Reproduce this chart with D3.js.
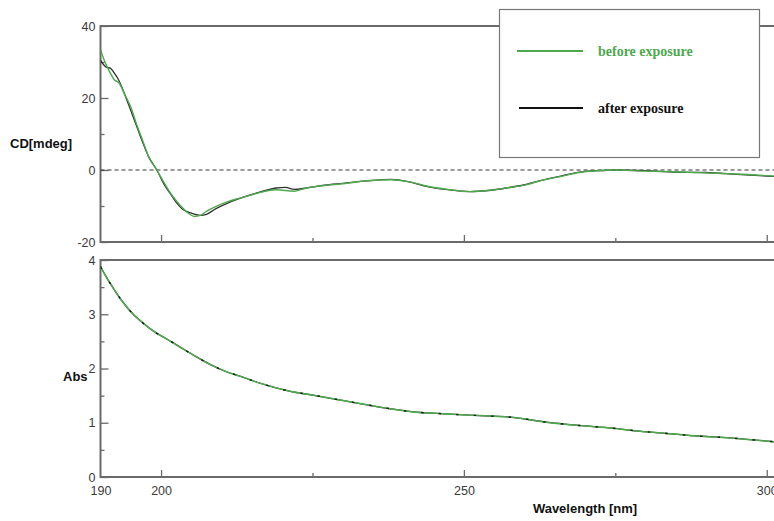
<!DOCTYPE html>
<html>
<head>
<meta charset="utf-8">
<script src="https://cdn.jsdelivr.net/npm/d3@7"></script>
<style>
  html,body{margin:0;padding:0;background:#fff;}
  svg{display:block;}
</style>
</head>
<body>
<div id="chart"></div>
<script>
// CD spectra before / after exposure + absorbance
const cdWlBefore=[190,190.5,191,191.6,192.3,193,194,195,196,197,198,199.3,200.5,201.5,202.5,203.5,204.5,205.5,206.5,207.5,209,211,213,216,219,222,224,227,230,234,238,241,244,247,251,254,257,260,263,266,269,272,275,280,285,290,295,301.2];
const cdBefore=[33.5,31,29,27,25,24.3,21,17.5,12.5,8,3.5,0,-3.5,-6.3,-8.5,-10.4,-12,-12.9,-12.6,-11.5,-10.2,-8.8,-7.8,-6.4,-5.5,-5.9,-5.0,-4.3,-3.8,-3.0,-2.7,-3.3,-4.5,-5.3,-6.0,-5.7,-5.0,-4.2,-2.8,-1.8,-0.7,-0.2,0,-0.3,-0.5,-0.8,-1.1,-1.7];

const cdWlAfter=[190,191,191.6,192.4,193,194,195,196,197,198,199.3,200.5,201.5,202.5,203.5,205,206.5,207.5,209,211,213,216,219,220.5,222,224,227,230,234,238,241,244,247,251,254,257,260,263,266,269,272,275,280,285,290,295,301.2];
const cdAfter=[30.5,28.5,28.3,26.6,25,21,16.5,12,7.5,3.5,0,-4,-6.5,-9,-10.8,-12,-12.6,-12.3,-10.8,-9.2,-7.9,-6.3,-5.0,-4.8,-5.4,-5.0,-4.2,-3.7,-3.0,-2.6,-3.3,-4.6,-5.4,-6.0,-5.7,-5.0,-4.1,-2.8,-1.7,-0.6,-0.2,0,-0.2,-0.6,-0.7,-1.2,-1.8];

const absWl=[190,191,192,193,194,195.4,197,199,201,203.5,205.3,208,210.8,213,216.3,221.3,225,229.5,234,238.3,241.6,246,251,255,258,263.6,269,274.6,278.5,282.8,288,293.9,301.2];
const absBefore=[3.88,3.68,3.50,3.33,3.18,3.0,2.84,2.67,2.54,2.37,2.25,2.08,1.94,1.86,1.73,1.58,1.51,1.42,1.33,1.25,1.20,1.17,1.14,1.12,1.10,1.01,0.95,0.90,0.85,0.81,0.76,0.72,0.65];
const absAfter=[3.88,3.68,3.50,3.33,3.18,3.0,2.84,2.67,2.54,2.37,2.25,2.08,1.94,1.86,1.73,1.58,1.51,1.42,1.33,1.25,1.20,1.17,1.14,1.12,1.10,1.01,0.95,0.90,0.85,0.81,0.76,0.72,0.65];

const xTickLabels=[190,200,250,300];
const xMajor=[200,250,300];
const xMinor=[225,275];
const cdTicks=[40,20,0,-20];
const cdMinor=[30,10,-10];
const absTicks=[4,3,2,1,0];
const absMinor=[3.5,2.5,1.5,0.5];

const legendItems=[{name:"before exposure",color:"#4ea84e"},{name:"after exposure",color:"#111"}];

const W=774,H=521;
const GREEN="#4ea84e",BLACK="#1a1a1a",FRAME="#6a6a6a",TXT="#3a3a3a";
const FONT="'Liberation Sans',Arial,sans-serif";
const fmt=d=>String(d);

const svg=d3.select("#chart").append("svg").attr("width",W).attr("height",H);

const x=d3.scaleLinear().domain([190,301.2]).range([100.5,774]);
const yCd=d3.scaleLinear().domain([-20,40]).range([242,26]);
const yAbs=d3.scaleLinear().domain([0,4]).range([477,260]);

svg.append("defs").append("clipPath").attr("id","clipAll")
  .append("rect").attr("x",100.5).attr("y",0).attr("width",W).attr("height",H);

// ── AXES ──────────────────────────────────────────────
function yAxis(scale,major,minor){
  svg.append("g").attr("transform","translate(100.5,0)")
    .call(d3.axisLeft(scale).tickValues(minor).tickSize(-4).tickFormat(""))
    .call(g=>g.select(".domain").remove())
    .call(g=>g.selectAll("line").attr("stroke",FRAME).attr("stroke-width",1.3));
  svg.append("g").attr("transform","translate(100.5,0)")
    .call(d3.axisLeft(scale).tickValues(major).tickSize(-8).tickPadding(5).tickFormat(fmt))
    .call(g=>g.select(".domain").remove())
    .call(g=>g.selectAll("line").attr("stroke",FRAME).attr("stroke-width",1.3))
    .call(g=>g.selectAll("text").attr("fill",TXT).attr("font-family",FONT).attr("font-size",12.5));
}
yAxis(yCd,cdTicks,cdMinor);
yAxis(yAbs,absTicks,absMinor);

function xTicks(yPos,vals,len){
  svg.append("g").attr("transform",`translate(0,${yPos})`)
    .call(d3.axisBottom(x).tickValues(vals).tickSize(-len).tickFormat(""))
    .call(g=>g.select(".domain").remove())
    .call(g=>g.selectAll("line").attr("stroke",FRAME).attr("stroke-width",1.3));
}
xTicks(242,xMajor,7);xTicks(242,xMinor,4);
xTicks(477,xMajor,7);xTicks(477,xMinor,4);

svg.append("g").attr("transform","translate(0,477)")
  .call(d3.axisBottom(x).tickValues(xTickLabels).tickSize(0).tickPadding(9).tickFormat(fmt))
  .call(g=>g.select(".domain").remove())
  .call(g=>g.selectAll("text").attr("fill",TXT).attr("font-family",FONT).attr("font-size",12.5));

// frames
const frame=svg.append("g").attr("stroke",FRAME).attr("stroke-width",2).attr("fill","none");
[[26,242],[260,477]].forEach(([t,b])=>{
  frame.append("path").attr("d",`M774,${t} H100.5 V${b} H774`);
});

// zero line
svg.append("line").attr("x1",100.5).attr("x2",W).attr("y1",yCd(0)).attr("y2",yCd(0))
  .attr("stroke","#333").attr("stroke-width",1).attr("stroke-dasharray","4,3");

// ── CURVES ────────────────────────────────────────────
const plot=svg.append("g").attr("clip-path","url(#clipAll)");
function curve(wl,vals,scale,color,w,dash){
  const line=d3.line().x((d,i)=>x(wl[i])).y(d=>scale(d)).curve(d3.curveMonotoneX);
  const p=plot.append("path").datum(vals).attr("d",line)
    .attr("fill","none").attr("stroke",color).attr("stroke-width",w);
  if(dash)p.attr("stroke-dasharray",dash);
}
curve(cdWlAfter,cdAfter,yCd,"#333",1.3);
curve(cdWlBefore,cdBefore,yCd,GREEN,1.4);
curve(absWl,absAfter,yAbs,"#333",1.3);
curve(absWl,absBefore,yAbs,GREEN,1.5);
curve(absWl,absAfter,yAbs,BLACK,1.4,"2.5,15");

// ── LABELS ────────────────────────────────────────────
svg.append("text").attr("x",10).attr("y",148).attr("font-family",FONT).attr("font-weight","bold")
  .attr("font-size",13).attr("fill","#111").text("CD[mdeg]");
svg.append("text").attr("x",63).attr("y",381).attr("font-family",FONT).attr("font-weight","bold")
  .attr("font-size",13).attr("fill","#111").text("Abs");
svg.append("text").attr("x",585).attr("y",513).attr("text-anchor","middle").attr("font-family",FONT)
  .attr("font-weight","bold").attr("font-size",13).attr("fill","#111").text("Wavelength [nm]");

// ── LEGEND ────────────────────────────────────────────
const lg=svg.append("g");
lg.append("rect").attr("x",499.5).attr("y",9.5).attr("width",260).attr("height",148)
  .attr("fill","#fff").attr("stroke","#777").attr("stroke-width",1.2);
legendItems.forEach((d,i)=>{
  const yy=51+i*57;
  lg.append("line").attr("x1",i?519:517).attr("x2",583).attr("y1",yy).attr("y2",yy)
    .attr("stroke",d.color).attr("stroke-width",2);
  lg.append("text").attr("x",598).attr("y",yy+4.5).attr("font-family","'Liberation Serif','Times New Roman',serif")
    .attr("font-weight","bold").attr("font-size",14).attr("fill",d.color).text(d.name);
});
</script>
</body>
</html>
